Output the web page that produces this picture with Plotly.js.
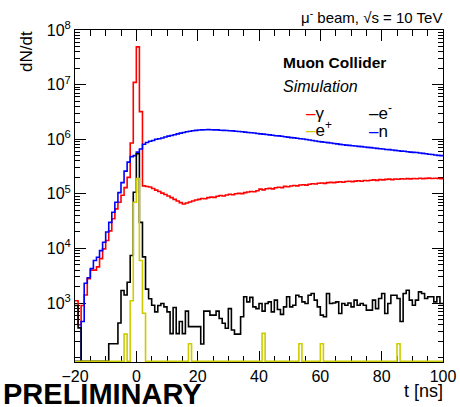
<!DOCTYPE html>
<html>
<head>
<meta charset="utf-8">
<script src="https://cdn.plot.ly/plotly-3.0.1.min.js"></script>
<style>html,body{margin:0;padding:0;background:#fff;}#chart{width:460px;height:407px;}</style>
</head>
<body>
<div id="chart"></div>
<script>
// Histogram binning: 1 ns bins from -20 to 100 ns
const binStart = -20;
const binWidth = 1;
const nBins = 120;

// dN/dt per bin (0 = empty bin)
const gammaCounts = [
  1100, 400, 900, 1400, 2800, 4000, 4000, 4600, 6500, 9800,
  14000, 21000, 35000, 53000, 70000, 94000, 130000, 200000, 850000, 1.1e7,
  4.9e7, 3.2e6, 1.40e5, 1.36e5, 1.33e5, 1.25e5, 1.17e5, 1.10e5, 1.03e5, 9.7e4,
  9.1e4, 8.5e4, 7.9e4, 7.4e4, 6.9e4, 6.5e4, 6.8e4, 7.1e4, 7.4e4, 7.7e4,
  7.9e4, 8.2e4, 8.1e4, 8.5e4, 8.7e4, 8.6e4, 9.0e4, 9.3e4, 9.1e4, 9.5e4,
  9.8e4, 9.6e4, 1.0e5, 1.02e5, 1.01e5, 1.05e5, 1.08e5, 1.10e5, 1.09e5, 1.14e5,
  1.22e5, 1.18e5, 1.24e5, 1.26e5, 1.23e5, 1.29e5, 1.32e5, 1.30e5, 1.37e5, 1.35e5,
  1.39e5, 1.42e5, 1.40e5, 1.45e5, 1.47e5, 1.44e5, 1.50e5, 1.53e5, 1.51e5, 1.56e5,
  1.58e5, 1.55e5, 1.60e5, 1.62e5, 1.60e5, 1.64e5, 1.66e5, 1.63e5, 1.68e5, 1.70e5,
  1.67e5, 1.71e5, 1.73e5, 1.70e5, 1.75e5, 1.74e5, 1.77e5, 1.80e5, 1.76e5, 1.82e5,
  1.80e5, 1.84e5, 1.86e5, 1.82e5, 1.87e5, 1.85e5, 1.89e5, 1.87e5, 1.90e5, 1.88e5,
  1.91e5, 1.89e5, 1.93e5, 1.90e5, 1.92e5, 1.94e5, 1.91e5, 1.93e5, 1.92e5, 1.90e5
];
const neutronCounts = [
  0, 0, 460, 2300, 2900, 4300, 6000, 6900, 9100, 13000,
  20000, 30000, 46000, 70000, 105000, 160000, 260000, 380000, 480000, 500000,
  580000, 660000, 810000, 870000, 920000, 950000, 1.0e6, 1.02e6, 1.05e6, 1.1e6,
  1.14e6, 1.17e6, 1.21e6, 1.25e6, 1.29e6, 1.33e6, 1.37e6, 1.40e6, 1.43e6, 1.45e6,
  1.47e6, 1.48e6, 1.49e6, 1.50e6, 1.49e6, 1.48e6, 1.48e6, 1.46e6, 1.45e6, 1.44e6,
  1.43e6, 1.42e6, 1.40e6, 1.38e6, 1.37e6, 1.35e6, 1.33e6, 1.31e6, 1.30e6, 1.27e6,
  1.25e6, 1.24e6, 1.22e6, 1.20e6, 1.18e6, 1.16e6, 1.15e6, 1.13e6, 1.11e6, 1.09e6,
  1.07e6, 1.06e6, 1.04e6, 1.02e6, 1.01e6, 9.9e5, 9.7e5, 9.5e5, 9.3e5, 9.1e5,
  8.95e5, 8.8e5, 8.65e5, 8.5e5, 8.35e5, 8.2e5, 8.05e5, 7.9e5, 7.8e5, 7.7e5,
  7.6e5, 7.5e5, 7.4e5, 7.3e5, 7.2e5, 7.1e5, 7.0e5, 6.9e5, 6.8e5, 6.7e5,
  6.6e5, 6.5e5, 6.45e5, 6.35e5, 6.25e5, 6.15e5, 6.05e5, 6.0e5, 5.9e5, 5.8e5,
  5.75e5, 5.7e5, 5.6e5, 5.5e5, 5.4e5, 5.3e5, 5.25e5, 5.15e5, 5.05e5, 5.0e5
];
const electronCounts = [
  900, 350, 0, 0, 0, 0, 0, 0, 0, 0,
  0, 180, 180, 180, 430, 1700, 1400, 2400, 7400, 107000,
  540000, 30000, 7000, 1800, 1200, 910, 690, 900, 980, 850,
  690, 275, 830, 275, 460, 275, 710, 370, 370, 370,
  370, 178, 710, 710, 600, 600, 710, 520, 425, 345,
  790, 320, 270, 270, 560, 1300, 1050, 1270, 850, 790,
  980, 710, 980, 1050, 690, 1130, 760, 620, 850, 1300,
  850, 910, 1390, 1300, 1050, 980, 1390, 1490, 1130, 850,
  600, 560, 1490, 980, 1000, 1050, 645, 980, 910, 1000,
  850, 1130, 910, 980, 910, 740, 740, 1130, 790, 1210,
  1490, 645, 980, 1390, 1390, 1210, 460, 1490, 1710, 1130,
  910, 1130, 1600, 1490, 1210, 1300, 1300, 1050, 1300, 980
];
const positronCounts = [
  0, 0, 0, 0, 0, 0, 0, 0, 0, 0,
  0, 0, 0, 0, 0, 0, 270, 0, 1100, 70000,
  190000, 6000, 650, 0, 0, 0, 0, 0, 0, 0,
  0, 0, 0, 0, 0, 0, 0, 180, 0, 0,
  0, 0, 0, 0, 0, 0, 0, 0, 0, 0,
  0, 0, 0, 0, 0, 0, 0, 0, 0, 0,
  0, 278, 0, 0, 0, 0, 0, 0, 0, 0,
  0, 0, 0, 180, 0, 0, 0, 0, 0, 0,
  180, 0, 0, 0, 0, 0, 0, 0, 0, 0,
  0, 0, 0, 0, 0, 0, 0, 0, 0, 0,
  0, 0, 0, 0, 0, 180, 0, 0, 0, 0,
  0, 0, 0, 0, 0, 0, 0, 0, 0, 0
];

const yTickVals = [1e3, 1e4, 1e5, 1e6, 1e7, 1e8];
const yTickText = ['10<sup>3</sup>', '10<sup>4</sup>', '10<sup>5</sup>', '10<sup>6</sup>', '10<sup>7</sup>', '10<sup>8</sup>'];

const LOG_MIN = 1.92, LOG_MAX = 8;
// empty bins are drawn along the bottom frame, as ROOT does on a log axis
const yFloor = Math.pow(10, LOG_MIN + 0.012);

const edges = [];
for (let i = 0; i <= nBins; i++) edges.push(binStart + i * binWidth);

function stepTrace(counts, color, name) {
  const ys = counts.map(v => (v > 0 ? v : yFloor));
  ys.push(ys[ys.length - 1]);
  return {
    type: 'scatter', mode: 'lines', name: name,
    x: edges, y: ys,
    line: {shape: 'hv', color: color, width: 1.6},
    hoverinfo: 'skip'
  };
}

const traces = [
  stepTrace(gammaCounts, '#ff0000', 'γ'),
  stepTrace(neutronCounts, '#0000ff', 'n'),
  stepTrace(electronCounts, '#000000', 'e-'),
  stepTrace(positronCounts, '#cccc00', 'e+')
];

const minorVals = [];
for (let d = 2; d < 8; d++) {
  for (let m = 1; m <= 9; m++) {
    if (m === 1 && d >= 3) continue;
    minorVals.push(m * Math.pow(10, d));
  }
}

const L = 75, R = 443, T = 30, B = 362;
const px2x = px => (px - L) / (R - L);
const py2y = py => (B - py) / (B - T);
const FONT = 'Liberation Sans, Arial, Helvetica, sans-serif';

function ann(text, px, py, xanchor, size, extra) {
  return Object.assign({
    text: text, x: px2x(px), y: py2y(py), xref: 'paper', yref: 'paper',
    xanchor: xanchor, yanchor: 'middle', showarrow: false, borderpad: 0,
    font: {family: FONT, size: size, color: '#000'}
  }, extra || {});
}

const annotations = [
  ann('dN/dt', 26, 52, 'center', 17, {textangle: -90}),
  ann('t [ns]', 444, 391, 'right', 18),
  ann('μ<sup>-</sup> beam, √s = 10 TeV', 443, 16.5, 'right', 15),
  ann('<b>Muon Collider</b>', 282, 62.5, 'left', 15.5),
  ann('<i>Simulation</i>', 282, 86, 'left', 16),
  ann('<span style="color:#ff0000">–</span>γ', 305, 113, 'left', 17),
  ann('<span style="color:#000000">–</span>e<sup>-</sup>', 368, 112, 'left', 17),
  ann('<span style="color:#cccc00">–</span>e<sup>+</sup>', 305, 129, 'left', 17),
  ann('<span style="color:#0000ff">–</span>n', 368, 131, 'left', 17),
  ann('<b>PRELIMINARY</b>', 2, 394, 'left', 29)
];

const axisCommon = {
  showline: true, linecolor: '#000', linewidth: 1, mirror: 'ticks',
  showgrid: false, zeroline: false, ticks: 'inside', tickcolor: '#000',
  tickwidth: 1, ticklen: 11, tickfont: {family: FONT, size: 16, color: '#000'},
  layer: 'below traces'
};

const layout = {
  width: 460, height: 407,
  margin: {l: L, r: 460 - R, t: T, b: 407 - B},
  paper_bgcolor: '#fff', plot_bgcolor: '#fff',
  showlegend: false,
  xaxis: Object.assign({}, axisCommon, {
    range: [-20, 100], tickmode: 'linear', tick0: 0, dtick: 20,
    minor: {tick0: 0, dtick: 5, ticks: 'inside', ticklen: 6, tickcolor: '#000', tickwidth: 1, showgrid: false}
  }),
  yaxis: Object.assign({}, axisCommon, {
    type: 'log', range: [LOG_MIN, LOG_MAX], tickmode: 'array',
    tickvals: yTickVals, ticktext: yTickText,
    minor: {tickmode: 'array', tickvals: minorVals, ticks: 'inside', ticklen: 5, tickcolor: '#000', tickwidth: 1, showgrid: false}
  }),
  annotations: annotations
};

Plotly.newPlot('chart', traces, layout, {staticPlot: true, displayModeBar: false});
</script>
</body>
</html>
